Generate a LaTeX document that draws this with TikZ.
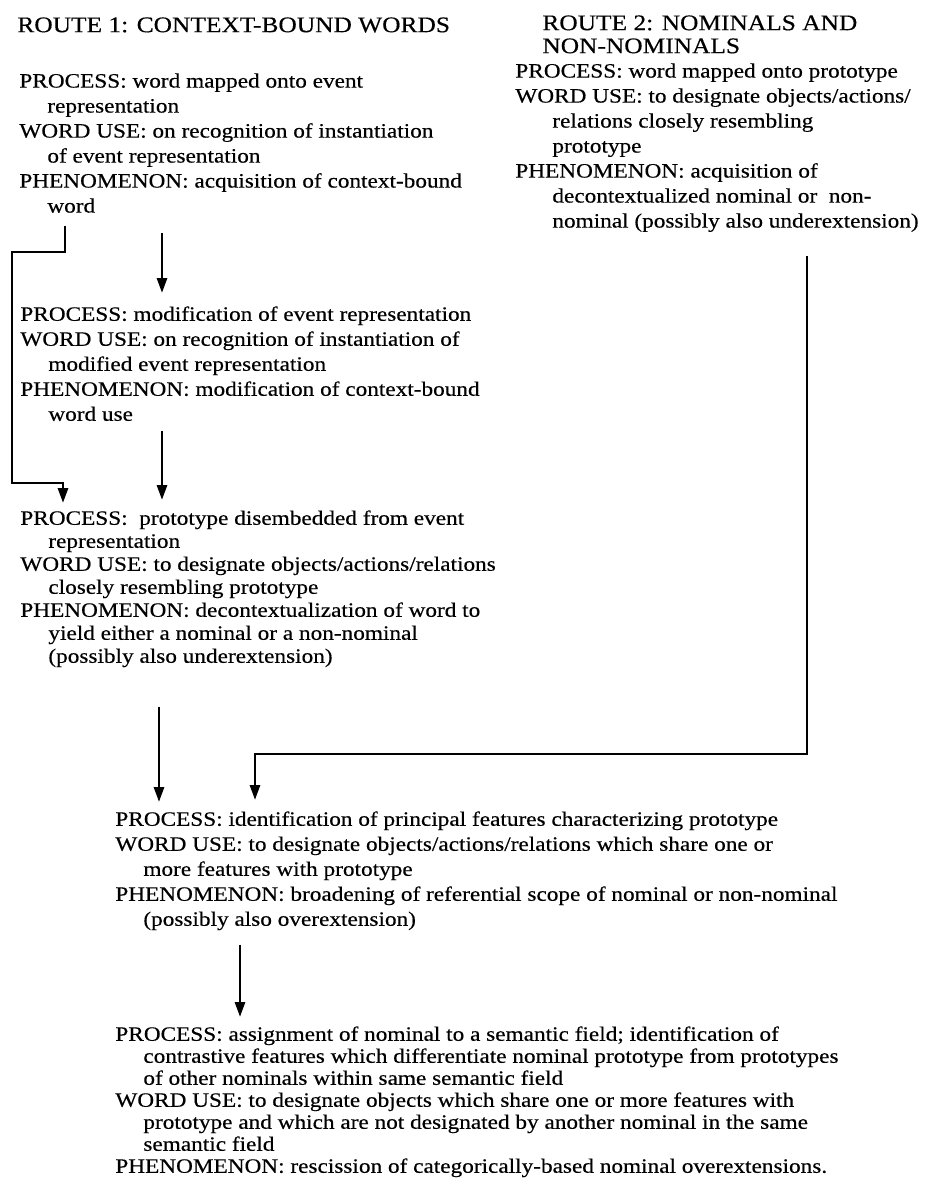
\documentclass[tikz,border=0pt]{standalone}
\usepackage{fontspec}
\setmainfont{Liberation Serif}[FakeStretch=1.14, FakeBold=0.4]
\usetikzlibrary{arrows.meta, calc}
\newcommand{\ind}{\hspace*{14pt}}
\newcommand{\indwide}{\hspace*{18.5pt}}

\begin{document}
\begin{tikzpicture}[x=0.5pt, y=-0.5pt,
  flow/.style={line width=1.4pt, -{Triangle[length=7.5pt,width=5pt]}},
  routehead/.style={anchor=north west, inner sep=0pt, align=left, font=\fontsize{11.15}{11.5}\selectfont},
  stage/.style={anchor=north west, inner sep=0pt, align=left, font=\fontsize{10.2}{#1}\selectfont},
  stage/.default=12.5]
  \useasboundingbox (0,0) rectangle (938,1189);

  % Route headings
  \node[routehead] (head1) at (17,17) {ROUTE 1: CONTEXT-BOUND WORDS};
  \node[routehead] (head2) at (542,15) {ROUTE 2: NOMINALS AND\\NON-NOMINALS};

  % Route 2 stage
  \node[stage] (r2a) at (515,63) {PROCESS: word mapped onto prototype\\
    WORD USE: to designate objects/actions/\\
    \indwide relations closely resembling\\
    \indwide prototype\\
    PHENOMENON: acquisition of\\
    \indwide decontextualized nominal or~ non-\\
    \indwide nominal (possibly also underextension)};

  % Route 1 stages
  \node[stage] (r1a) at (19,73) {PROCESS: word mapped onto event\\
    \ind representation\\
    WORD USE: on recognition of instantiation\\
    \ind of event representation\\
    PHENOMENON: acquisition of context-bound\\
    \ind word};
  \node[stage] (r1b) at (20,306) {PROCESS: modification of event representation\\
    WORD USE: on recognition of instantiation of\\
    \ind modified event representation\\
    PHENOMENON: modification of context-bound\\
    \ind word use};
  \node[stage=11.5] (r1c) at (20,510) {PROCESS:~ prototype disembedded from event\\
    \ind representation\\
    WORD USE: to designate objects/actions/relations\\
    \ind closely resembling prototype\\
    PHENOMENON: decontextualization of word to\\
    \ind yield either a nominal or a non-nominal\\
    \ind (possibly also underextension)};

  % Shared stages
  \node[stage=12.5] (join) at (115,811) {PROCESS: identification of principal features characterizing prototype\\
    WORD USE: to designate objects/actions/relations which share one or\\
    \ind more features with prototype\\
    PHENOMENON: broadening of referential scope of nominal or non-nominal\\
    \ind (possibly also overextension)};
  \node[stage=11] (field) at (115,1026) {PROCESS: assignment of nominal to a semantic field; identification of\\
    \ind contrastive features which differentiate nominal prototype from prototypes\\
    \ind of other nominals within same semantic field\\
    WORD USE: to designate objects which share one or more features with\\
    \ind prototype and which are not designated by another nominal in the same\\
    \ind semantic field\\
    PHENOMENON: rescission of categorically-based nominal overextensions.};

  % Bends
  \coordinate (loopTop) at (12,252);
  \coordinate (loopBot) at (12,483);
  \coordinate (rightBend) at (807,754);

  % Route 1 arrows
  \draw[flow] ($(r1a.south -| 162,0)+(0,20)$) -- ($(r1b.north -| 162,0)+(0,-13)$);
  \draw[flow] ($(r1b.south -| 162,0)+(0,10)$) -- ($(r1c.north -| 162,0)+(0,-10)$);
  \draw[flow] ($(r1a.south -| 65,0)+(0,13)$) |- (loopTop) -- (loopBot) -| ($(r1c.north -| 63,0)+(0,-7)$);
  \draw[flow] ($(r1c.south -| 159,0)+(0,39)$) -- ($(join.north -| 159,0)+(0,-9)$);

  % Route 2 arrow
  \draw[flow] ($(r2a.south -| 807,0)+(0,24)$) -- (rightBend) -| ($(join.north -| 255,0)+(0,-11)$);

  % Last step
  \draw[flow] ($(join.south -| 240,0)+(0,14)$) -- ($(field.north -| 240,0)+(0,-9)$);
\end{tikzpicture}
\end{document}
